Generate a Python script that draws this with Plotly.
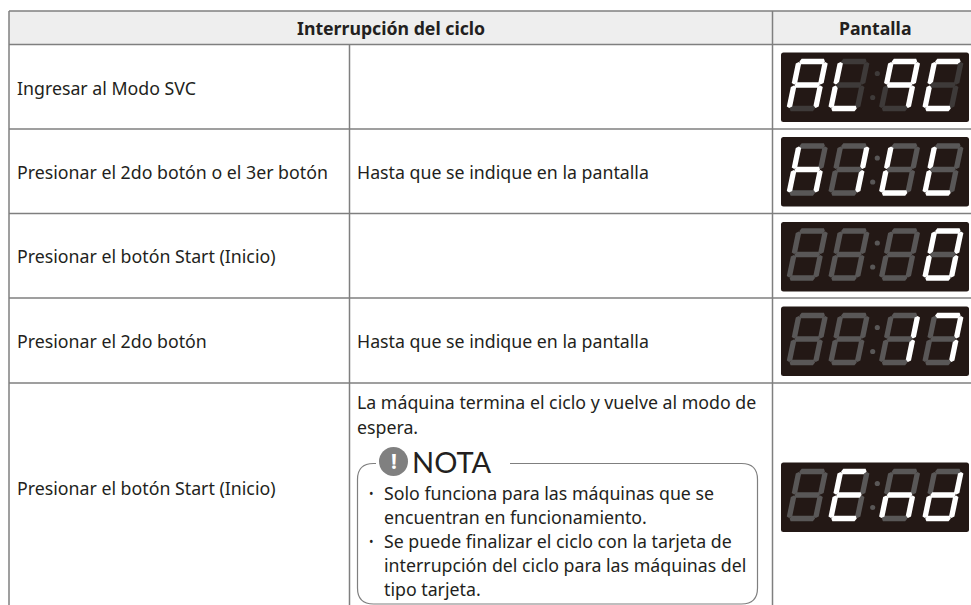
import plotly.graph_objects as go

W, H = 971, 605
FONT = "Noto Sans"
INK = "#231f20"
GRID = "#7f7f7f"
BODY_SIZE = 17.75
HEAD_SIZE = 17.7

# table structure
header_labels = ["Interrupción del ciclo", "Pantalla"]
action_labels = ["Ingresar al Modo SVC",
                 "Presionar el 2do botón o el 3er botón",
                 "Presionar el botón Start (Inicio)",
                 "Presionar el 2do botón",
                 "Presionar el botón Start (Inicio)"]
detail_labels = ["", "Hasta que se indique en la pantalla", "",
                 "Hasta que se indique en la pantalla", ""]
final_lines = ["La máquina termina el ciclo y vuelve al modo de", "espera."]
note_title = "NOTA"
note_lines = ["Solo funciona para las máquinas que se",
              "encuentran en funcionamiento.",
              "Se puede finalizar el ciclo con la tarjeta de",
              "interrupción del ciclo para las máquinas del",
              "tipo tarjeta."]
note_bullets = [True, False, True, False, False]

# lit segments of the four digits per display (a top, b upper right, c lower right,
# d bottom, e lower left, f upper left, g middle)
display_segments = [["abcefg", "def", "abcfg", "adef"],
                    ["cefg", "bc", "def", "def"],
                    ["", "", "", "abcdef"],
                    ["", "", "bc", "abc"],
                    ["", "adefg", "ceg", "bcdeg"]]
display_dim = ["#3e3a39", "#595757", "#595757", "#595757", "#595757"]

# layout
table_left, table_top, header_bottom = 9, 11, 44.5
col_mid, col_right = 349.5, 772.5
row_bottoms = [129, 213.5, 298, 383, 606]
row_text_y = [88, 172, 256, 341, 488]
final_y = [401.5, 427]
note_y = [493, 517, 541, 565, 589]
display_top = [52.5, 137, 222, 306.5, 462.5]
display_left, display_w, display_h = 781, 188, 69.5
digit_off = [0, 41.7, 92.3, 135.7]

shapes, ann = [], []


def line(x0, y0, x1, y1, c=GRID, w=1.5):
    shapes.append(dict(type="line", x0=x0, y0=y0, x1=x1, y1=y1, line=dict(color=c, width=w)))


def poly(pts, fill):
    p = "M" + " L".join(f"{x:.2f},{y:.2f}" for x, y in pts) + " Z"
    shapes.append(dict(type="path", path=p, fillcolor=fill, line=dict(width=0)))


def text(x, y, s, size=BODY_SIZE, color=INK, anchor="left", bold=False, family=FONT):
    ann.append(dict(x=x, y=y, text=f"<b>{s}</b>" if bold else s, showarrow=False,
                    xanchor=anchor, yanchor="middle", borderpad=0,
                    font=dict(size=size, color=color, family=family)))


# header band and grid
shapes.append(dict(type="rect", x0=table_left, y0=table_top, x1=W + 2, y1=header_bottom,
                   fillcolor="#eeeeee", line=dict(width=0)))
line(table_left, table_top, W, table_top)
line(table_left, header_bottom, W, header_bottom)
for rb in row_bottoms[:-1]:
    line(table_left, rb, W, rb)
line(table_left, table_top, table_left, H + 1)
line(col_mid, header_bottom, col_mid, H + 1)
line(col_right, table_top, col_right, H + 1)

text(391, 28, header_labels[0], size=HEAD_SIZE, anchor="center", bold=True)
text(875, 28, header_labels[1], size=HEAD_SIZE, anchor="center", bold=True)
for s, d, y in zip(action_labels, detail_labels, row_text_y):
    text(16, y, s)
    if d:
        text(356, y, d)
for s, y in zip(final_lines, final_y):
    text(356, y, s)

# note frame
nl, nr, nt, nb, nrad = 357.5, 757.5, 463.5, 604, 16
frame = (f"M376,{nt} L{nl + nrad},{nt} Q{nl},{nt} {nl},{nt + nrad} L{nl},{nb - nrad} "
         f"Q{nl},{nb} {nl + nrad},{nb} L{nr - nrad},{nb} Q{nr},{nb} {nr},{nb - nrad} "
         f"L{nr},{nt + nrad} Q{nr},{nt} {nr - nrad},{nt} L510,{nt}")
shapes.append(dict(type="path", path=frame, line=dict(color=GRID, width=1.2)))
shapes.append(dict(type="circle", x0=379, y0=447, x1=408, y1=476,
                   fillcolor="#808080", line=dict(width=0)))
text(393.5, 461, "!", size=21, color="white", anchor="center", bold=True)
text(411, 461, note_title, size=29, family="Lato")
for s, b, y in zip(note_lines, note_bullets, note_y):
    text(383, y, s)
    if b:
        text(371, y, "•", size=12, anchor="center")

# seven segment displays
SK, DW, VT, VM, VB, TH, X0, GAP, CUT = 0.21, 26.5, 9, 32.5, 56, 5.4, 13, 0.5, 0.6


def seg(name, ox, oy, fill):
    def P(u, v):
        return (ox + X0 + u + (VM - v) * SK, oy + v)
    t = TH / 2
    c = t * CUT
    if name in "agd":
        v = {"a": VT, "g": VM, "d": VB}[name]
        u0, u1 = GAP, DW - GAP
        pts = [(u0, v), (u0 + c, v - t), (u1 - c, v - t), (u1, v), (u1 - c, v + t), (u0 + c, v + t)]
    else:
        u = 0 if name in "ef" else DW
        v0, v1 = (VT, VM) if name in "bf" else (VM, VB)
        v0 += GAP
        v1 -= GAP
        pts = [(u, v0), (u + t, v0 + c), (u + t, v1 - c), (u, v1), (u - t, v1 - c), (u - t, v0 + c)]
    poly([P(*q) for q in pts], fill)


for top, digits, dim in zip(display_top, display_segments, display_dim):
    L, R, T, B, r = display_left, display_left + display_w, top, top + display_h, 2.5
    shapes.append(dict(type="path", fillcolor="#231815", line=dict(width=0),
                       path=(f"M{L + r},{T} L{R - r},{T} Q{R},{T} {R},{T + r} L{R},{B - r} Q{R},{B} {R - r},{B} "
                             f"L{L + r},{B} Q{L},{B} {L},{B - r} L{L},{T + r} Q{L},{T} {L + r},{T} Z")))
    for off, lit in zip(digit_off, digits):
        for name in "abcdefg":
            seg(name, L + off, T, "#ffffff" if name in lit else dim)
    for cx, cy in ((96.3, 21), (91.7, 45)):
        shapes.append(dict(type="circle", x0=L + cx - 2.6, x1=L + cx + 2.6, y0=T + cy - 2.6, y1=T + cy + 2.6,
                           fillcolor=dim, line=dict(width=0)))

fig = go.Figure()
fig.update_layout(width=W, height=H, margin=dict(l=0, r=0, t=0, b=0),
                  paper_bgcolor="white", plot_bgcolor="white", showlegend=False,
                  xaxis=dict(range=[0, W], visible=False, fixedrange=True),
                  yaxis=dict(range=[H, 0], visible=False, fixedrange=True),
                  shapes=shapes, annotations=ann)
fig.write_html("out.html", config=dict(displayModeBar=False),
               post_script="document.body.style.margin='0';document.body.style.overflow='hidden';")
